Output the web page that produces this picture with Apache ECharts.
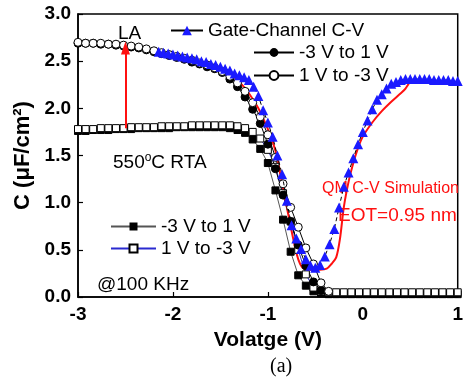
<!DOCTYPE html>
<html><head><meta charset="utf-8">
<script src="https://cdn.jsdelivr.net/npm/echarts@6/dist/echarts.min.js"></script>
<style>html,body{margin:0;padding:0;background:#fff}#c{width:466px;height:381px}</style>
</head><body><div id="c"></div>
<script>
// Voltage grid for the sweep curves
const vGrid = [-3.00,-2.92,-2.84,-2.76,-2.68,-2.60,-2.52,-2.44,-2.36,-2.28,-2.20,-2.12,-2.04,-1.96,-1.88,-1.80,-1.72,-1.64,-1.56,-1.48,-1.40,-1.32,-1.24,-1.16,-1.08,-1.00,-0.92,-0.84,-0.76,-0.68,-0.60,-0.52,-0.44,-0.36,-0.28,-0.20,-0.12,-0.04,0.04,0.12,0.20,0.28,0.36,0.44,0.52,0.60,0.68,0.76,0.84,0.92,1.00];
// LA curves (circles)
const laFwd = [2.69,2.69,2.69,2.68,2.68,2.67,2.66,2.65,2.64,2.62,2.60,2.58,2.56,2.54,2.52,2.49,2.47,2.44,2.42,2.38,2.31,2.23,2.12,1.99,1.84,1.62,1.36,1.08,0.80,0.55,0.33,0.16,0.07];
const laRev = [2.70,2.69,2.69,2.69,2.68,2.68,2.67,2.66,2.65,2.63,2.61,2.59,2.57,2.55,2.53,2.51,2.48,2.46,2.43,2.39,2.34,2.27,2.18,2.06,1.91,1.72,1.48,1.20,0.95,0.74,0.52,0.35,0.15,0.06];
// 550C RTA curves (squares)
const rtaFwd = [1.76,1.76,1.77,1.77,1.77,1.78,1.78,1.78,1.79,1.79,1.79,1.79,1.79,1.80,1.80,1.80,1.80,1.80,1.80,1.80,1.79,1.77,1.74,1.67,1.57,1.42,1.13,0.82,0.48,0.23,0.12,0.06,0.04,0.03,0.03,0.03,0.03,0.03,0.03,0.03,0.03,0.03,0.03,0.03,0.03,0.03,0.03,0.03,0.03,0.03,0.03];
const rtaRev = [1.78,1.78,1.78,1.79,1.79,1.79,1.79,1.80,1.80,1.80,1.80,1.81,1.81,1.81,1.81,1.82,1.82,1.82,1.82,1.82,1.82,1.81,1.79,1.75,1.68,1.56,1.38,1.10,0.80,0.50,0.24,0.10,0.06,0.05,0.05,0.05,0.05,0.05,0.05,0.05,0.05,0.05,0.05,0.05,0.05,0.05,0.05,0.05,0.05,0.05,0.05];
// Gate-channel C-V (triangles)
const gcV = [-2.15,-2.10,-2.05,-2.00,-1.95,-1.90,-1.85,-1.80,-1.75,-1.70,-1.65,-1.60,-1.55,-1.50,-1.45,-1.40,-1.35,-1.30,-1.25,-1.20,-1.15,-1.10,-1.05,-1.00,-0.95,-0.90,-0.85,-0.80,-0.75,-0.70,-0.65,-0.60,-0.55,-0.50,-0.45,-0.40,-0.35,-0.30,-0.25,-0.20,-0.15,-0.10,-0.05,0.00,0.05,0.10,0.15,0.20,0.25,0.30,0.35,0.40,0.45,0.50,0.55,0.60,0.65,0.70,0.75,0.80,0.85,0.90,0.95,1.00];
const gcC = [2.60,2.59,2.58,2.57,2.56,2.55,2.54,2.53,2.52,2.50,2.49,2.47,2.46,2.44,2.42,2.40,2.37,2.35,2.33,2.30,2.23,2.13,1.98,1.85,1.70,1.50,1.30,1.02,0.76,0.62,0.51,0.40,0.33,0.31,0.34,0.43,0.56,0.72,0.95,1.17,1.32,1.47,1.62,1.75,1.87,1.99,2.09,2.15,2.21,2.26,2.28,2.30,2.31,2.31,2.31,2.31,2.31,2.31,2.30,2.30,2.30,2.30,2.29,2.29];
// QM C-V simulation (red line)
const simV = [-1.38,-1.30,-1.20,-1.10,-1.00,-0.95,-0.90,-0.85,-0.80,-0.75,-0.70,-0.66,-0.62,-0.55,-0.45,-0.38,-0.33,-0.28,-0.24,-0.20,-0.15,-0.10,-0.05,0.00,0.10,0.20,0.30,0.40,0.45,0.50];
const simC = [2.35,2.28,2.16,2.00,1.78,1.65,1.47,1.20,0.95,0.70,0.47,0.35,0.30,0.29,0.29,0.30,0.35,0.42,0.62,0.95,1.22,1.42,1.58,1.70,1.85,1.97,2.07,2.16,2.21,2.29];
// Arrow (LA) from RTA level to LA level
const arrowV = -2.5, arrowFrom = 1.79, arrowTo = 2.64;
// Axis ticks
const xTicks = [-3,-2,-1,0,1];
const yTicks = [0,0.5,1,1.5,2,2.5,3];

function zip(xs, ys){ const o=[]; for(let i=0;i<ys.length;i++) o.push([xs[i], ys[i]]); return o; }

const FF = '"Liberation Sans", Arial, sans-serif';
const chart = echarts.init(document.getElementById('c'), null, {renderer:'canvas'});
const legendText = {fontSize:19, color:'#000', fontFamily:FF};
chart.setOption({
  animation:false,
  backgroundColor:'#fff',
  grid:{left:78, right:5, top:14, bottom:84, show:true, borderColor:'#000', borderWidth:1.5, backgroundColor:'transparent'},
  xAxis:{type:'value', min:xTicks[0], max:xTicks[xTicks.length-1], interval:1,
    axisLine:{onZero:false, lineStyle:{color:'#000', width:1.5}}, axisTick:{inside:true, length:5, lineStyle:{color:'#000', width:1.2}},
    splitLine:{show:false},
    axisLabel:{fontSize:19, fontWeight:'bold', color:'#000', fontFamily:FF, margin:8},
    name:'Volatge (V)', nameLocation:'middle', nameGap:33,
    nameTextStyle:{fontSize:21, fontWeight:'bold', color:'#000', fontFamily:FF}},
  yAxis:{type:'value', min:yTicks[0], max:yTicks[yTicks.length-1], interval:0.5,
    axisLine:{show:true, onZero:false, lineStyle:{color:'#000', width:1.5}}, axisTick:{show:true, inside:true, length:5, lineStyle:{color:'#000', width:1.2}},
    splitLine:{show:false},
    axisLabel:{fontSize:19, fontWeight:'bold', color:'#000', fontFamily:FF, margin:7, formatter:v=>v.toFixed(1)},
    name:'C (\u03bcF/cm\u00b2)', nameLocation:'middle', nameGap:44, nameRotate:90,
    nameTextStyle:{fontSize:22, fontWeight:'bold', color:'#000', fontFamily:FF}},
  legend:[
    {data:['Gate-Channel C-V'], left:170, top:21, padding:0, itemWidth:32, itemHeight:12, itemGap:5, textStyle:legendText, lineStyle:{type:'solid'}, selectedMode:false},
    {data:['-3 V to 1 V','1 V to -3 V'], orient:'vertical', left:253, top:43, padding:0, itemWidth:40, itemHeight:11, itemGap:4, textStyle:legendText, selectedMode:false},
    {data:['-3 V to 1 V ','1 V to -3 V '], orient:'vertical', left:110, top:217, padding:0, itemWidth:45, itemHeight:10, itemGap:3, textStyle:legendText, selectedMode:false}
  ],
  series:[
    {name:'-3 V to 1 V ', type:'line', data:zip(vGrid, rtaFwd), symbol:'rect', symbolSize:7,
      itemStyle:{color:'#000', borderColor:'#000'}, lineStyle:{color:'#555', width:1}},
    {name:'1 V to -3 V ', type:'line', data:zip(vGrid, rtaRev), symbol:'rect', symbolSize:7,
      itemStyle:{color:'#fff', borderColor:'#000', borderWidth:1}, lineStyle:{color:'#2a2ad0', width:1}},
    {name:'-3 V to 1 V', type:'line', data:zip(vGrid, laFwd), symbol:'circle', symbolSize:8,
      itemStyle:{color:'#000', borderColor:'#000'}, lineStyle:{color:'#000', width:1}},
    {name:'1 V to -3 V', type:'line', data:zip(vGrid, laRev), symbol:'circle', symbolSize:8,
      itemStyle:{color:'#fff', borderColor:'#000', borderWidth:1}, lineStyle:{color:'#000', width:1}},
    {name:'QM C-V Simulation', type:'line', data:zip(simV, simC), symbol:'none', smooth:0.3,
      lineStyle:{color:'#ff1010', width:2}, z:3,
      markLine:{silent:true, symbol:['none','triangle'], symbolSize:[9,13], label:{show:false},
        lineStyle:{color:'#ff1010', width:2, type:'solid'},
        data:[[{coord:[arrowV, arrowFrom]},{coord:[arrowV, arrowTo]}]]}},
    {name:'Gate-Channel C-V', type:'line', data:zip(gcV, gcC), symbol:'triangle', symbolSize:10,
      itemStyle:{color:'#1a1aff'}, lineStyle:{color:'#000', width:1, type:[4,3]}, z:4}
  ],
  graphic:[
    {type:'text', left:118, top:24, style:{text:'LA', fontSize:19, fill:'#000', fontFamily:FF}},
    {type:'text', left:113, top:152, style:{text:'{n|550}{s|o}{n|C RTA}', fontSize:19, fill:'#000', fontFamily:FF,
      rich:{n:{fontSize:19, fontFamily:FF, fill:'#000'}, s:{fontSize:12, fontFamily:FF, fill:'#000', verticalAlign:'top', padding:[0,0,10,0]}}}},
    {type:'text', left:97, top:275, style:{text:'@100 KHz', fontSize:19, fill:'#000', fontFamily:FF}},
    {type:'text', left:322, top:181, style:{text:'QM C-V Simulation', fontSize:16, fill:'#ff1010', fontFamily:FF}},
    {type:'text', left:338, top:206, style:{text:'EOT=0.95 nm', fontSize:19, fill:'#ff1010', fontFamily:FF}},
    {type:'text', left:270, top:357, style:{text:'(a)', fontSize:20, fill:'#000', fontFamily:'"Liberation Serif", "Times New Roman", serif', textAlign:'center'}}
  ]
});
</script></body></html>
